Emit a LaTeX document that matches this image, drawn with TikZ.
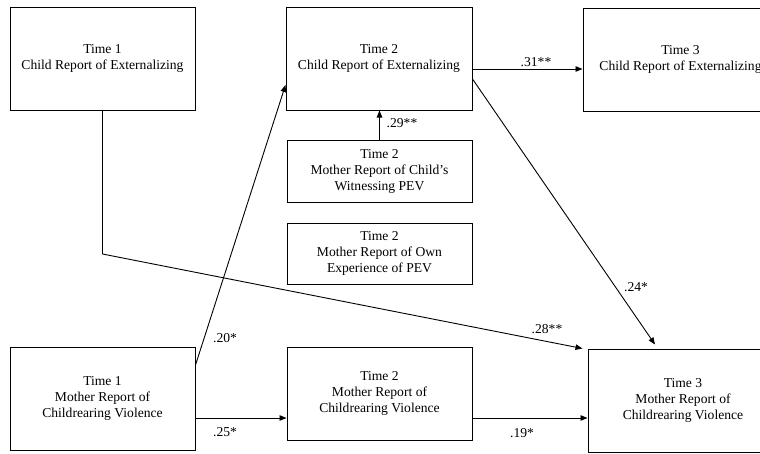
\documentclass[tikz,border=0pt]{standalone}
\usepackage{fontspec}
\setmainfont{Liberation Serif}
\usetikzlibrary{arrows.meta,calc}
\begin{document}
\begin{tikzpicture}[x=1pt,y=1pt,
  box/.style={draw, line width=1pt, inner sep=0pt, align=center,
    font=\fontsize{13.6}{16}\selectfont},
  lbl/.style={inner sep=0pt, font=\fontsize{13.6}{16}\selectfont},
  arr/.style={line width=0.9pt, -{Triangle[length=7pt,width=5.5pt]}},
  ln/.style={line width=0.9pt}]
\useasboundingbox (0,0) rectangle (760,-453);
\clip (0,0) rectangle (760,-453);
\node[box, minimum width=185pt, minimum height=103pt] (A) at (102.5,-58.5) {Time 1\\Child Report of Externalizing};
\node[box, minimum width=186pt, minimum height=103pt] (B) at (379,-58.5) {Time 2\\Child Report of Externalizing};
\node[box, minimum width=195pt, minimum height=103pt] (C) at (680.5,-59.5) {Time 3\\Child Report of Externalizing};
\node[box, minimum width=185pt, minimum height=62pt] (D) at (379.5,-171) {Time 2\\Mother Report of Child’s\\Witnessing PEV};
\node[box, minimum width=185pt, minimum height=61pt] (E) at (379.5,-253.5) {Time 2\\Mother Report of Own\\Experience of PEV};
\node[box, minimum width=185pt, minimum height=103pt] (F) at (102.5,-398.5) {Time 1\\Mother Report of\\Childrearing Violence};
\node[box, minimum width=185pt, minimum height=93pt] (G) at (379.5,-393.5) {Time 2\\Mother Report of\\Childrearing Violence};
\node[box, minimum width=190pt, minimum height=103pt] (H) at (683,-400.5) {Time 3\\Mother Report of\\Childrearing Violence};
\coordinate (k) at (A.south |- 0,-254);
\coordinate (t28) at ($(H.north west)+(-5,0)$);
\coordinate (t24) at ($(H.north)+(-28,4)$);
\draw[arr] (B.east |- 0,-69) -- (C.west |- 0,-69);
\draw[arr] (D.north) -- (D.north |- B.south);
\draw[ln] (A.south) -- (k);
\draw[arr] (k) -- (t28);
\draw[arr] (F.east |- 0,-365) -- (B.west |- 0,-85);
\draw[arr] (F.east |- 0,-418) -- (G.west |- 0,-418);
\draw[arr] (G.east |- 0,-418) -- (H.west |- 0,-418);
\draw[arr] (B.east |- 0,-79) -- (t24);
\node[lbl] (l31) at (536,-62) {.31**};
\node[lbl] (l29) at (402,-123) {.29**};
\node[lbl] (l20) at (225,-338) {.20*};
\node[lbl] (l25) at (225,-432) {.25*};
\node[lbl] (l28) at (547,-329) {.28**};
\node[lbl] (l24) at (636,-287) {.24*};
\node[lbl] (l19) at (522,-433) {.19*};
\end{tikzpicture}
\end{document}
